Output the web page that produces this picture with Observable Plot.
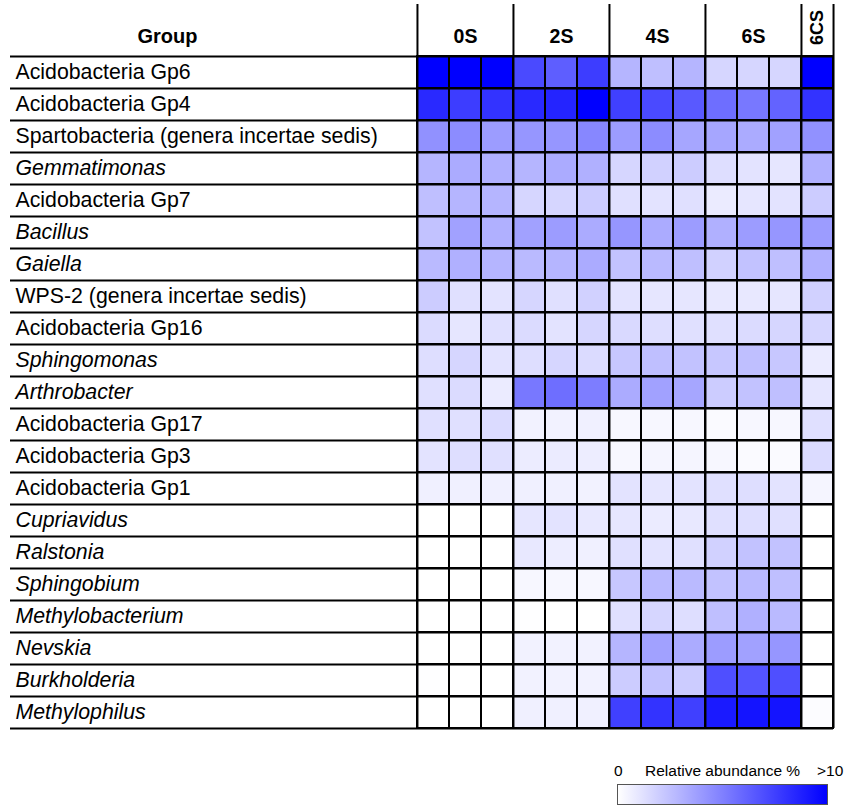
<!DOCTYPE html>
<html>
<head>
<meta charset="utf-8">
<script src="https://cdn.jsdelivr.net/npm/d3@7"></script>
<script src="https://cdn.jsdelivr.net/npm/@observablehq/plot@0.6"></script>
<style>
  html, body { margin: 0; padding: 0; background: #fff; }
  #wrap { position: relative; width: 846px; height: 807px; font-family: "Liberation Sans", Arial, sans-serif; }
  #legend { position: absolute; left: 612px; top: 762px; width: 234px; height: 46px; }
  #legend .lbl { position: absolute; top: 0; font-size: 15.5px; color: #000; line-height: 18px; }
  #legend .bar { position: absolute; left: 5px; top: 22px; width: 211px; height: 21px; border: 1px solid #555; box-sizing: border-box; }
</style>
</head>
<body>
<div id="wrap"></div>
<script>
// ---- data ----
const groups = [
  "Acidobacteria Gp6", "Acidobacteria Gp4", "Spartobacteria (genera incertae sedis)",
  "Gemmatimonas", "Acidobacteria Gp7", "Bacillus", "Gaiella",
  "WPS-2 (genera incertae sedis)", "Acidobacteria Gp16", "Sphingomonas", "Arthrobacter",
  "Acidobacteria Gp17", "Acidobacteria Gp3", "Acidobacteria Gp1", "Cupriavidus",
  "Ralstonia", "Sphingobium", "Methylobacterium", "Nevskia", "Burkholderia", "Methylophilus"
];
const italicGroups = [
  "Gemmatimonas", "Bacillus", "Gaiella", "Sphingomonas", "Arthrobacter", "Cupriavidus",
  "Ralstonia", "Sphingobium", "Methylobacterium", "Nevskia", "Burkholderia", "Methylophilus"
];
const columns = ["0S-1","0S-2","0S-3","2S-1","2S-2","2S-3","4S-1","4S-2","4S-3","6S-1","6S-2","6S-3","6CS"];
const treatments = ["0S", "2S", "4S", "6S"];
const treatmentCenters = ["0S-2", "2S-2", "4S-2", "6S-2"];
const treatmentStarts = ["0S-1", "2S-1", "4S-1", "6S-1", "6CS"];
const singleTreatment = "6CS";
// relative abundance % (values > 10 shown as saturated)
const values = [
  [12, 12, 12,     7.1, 6.3, 7.6,   2.9, 2.5, 2.9,   1.6, 1.6, 1.6,   12],
  [8.4, 7.6, 8.0,  8.4, 8.6, 11,    7.5, 7.1, 6.5,   5.7, 5.3, 6.1,   8.0],
  [4.3, 4.5, 3.9,  4.1, 4.1, 4.7,   3.9, 4.5, 3.5,   3.5, 3.3, 3.7,   4.3],
  [2.9, 3.3, 3.1,  2.9, 3.3, 3.1,   1.6, 1.8, 2.0,   1.3, 1.1, 1.0,   3.1],
  [2.5, 2.9, 2.9,  1.6, 1.6, 2.0,   1.2, 1.1, 1.2,   0.8, 1.0, 1.1,   2.0],
  [2.4, 3.7, 3.1,  3.7, 3.9, 3.3,   4.1, 3.3, 3.9,   3.1, 3.9, 4.1,   3.9],
  [2.7, 3.1, 2.9,  2.7, 2.9, 3.3,   2.4, 2.7, 2.5,   1.8, 2.4, 2.5,   3.1],
  [2.0, 1.2, 1.1,  1.6, 1.2, 1.8,   1.1, 1.0, 1.0,   0.9, 0.9, 1.0,   1.8],
  [1.4, 1.0, 1.2,  1.4, 1.1, 1.6,   1.5, 1.3, 1.2,   1.2, 1.4, 1.6,   1.6],
  [1.3, 1.6, 1.1,  1.3, 1.6, 1.4,   2.2, 2.5, 2.4,   2.2, 2.5, 2.2,   0.8],
  [1.2, 1.4, 0.8,  5.3, 5.7, 5.1,   3.3, 3.7, 3.5,   2.0, 2.4, 2.5,   1.0],
  [1.2, 1.2, 1.4,  0.5, 0.5, 0.6,   0.3, 0.3, 0.3,   0.2, 0.3, 0.3,   1.2],
  [1.1, 1.3, 1.2,  0.75, 0.8, 0.7,  0.3, 0.4, 0.4,   0.3, 0.2, 0.2,   1.4],
  [0.6, 0.6, 0.6,  0.6, 0.6, 0.5,   1.1, 1.0, 1.1,   1.2, 1.3, 1.1,   0.4],
  [0, 0, 0,        1.0, 1.1, 0.9,   1.0, 0.8, 0.9,   1.2, 1.3, 1.2,   0],
  [0, 0, 0,        0.9, 0.7, 0.6,   1.2, 1.1, 1.2,   1.8, 2.4, 2.4,   0],
  [0, 0, 0,        0.3, 0.3, 0.3,   2.2, 2.7, 2.7,   2.4, 2.7, 2.5,   0],
  [0, 0, 0,        0.05, 0, 0,      1.2, 1.6, 1.3,   2.5, 3.1, 2.7,   0],
  [0, 0, 0,        0.5, 0.5, 0.5,   2.9, 3.7, 3.3,   3.9, 3.7, 4.1,   0],
  [0.05, 0, 0,     0.5, 0.5, 0.5,   2.0, 2.4, 2.0,   6.9, 6.7, 6.9,   0],
  [0, 0, 0,        0.6, 0.6, 0.6,   7.5, 8.0, 7.5,   9.0, 9.2, 9.2,   0.1]
];
const legendMin = "0";
const legendMax = ">10";
const legendTitle = "Relative abundance %";

// ---- layout ----
const W = 846, H = 740;
const gridLeft = 416, gridRight = 833, gridTop = 56, gridBottom = 728;
const bwX = (gridRight - gridLeft) / columns.length;
const bwY = (gridBottom - gridTop) / groups.length;
const font = "Liberation Sans, Arial, Helvetica, sans-serif";

const cells = groups.flatMap((g, i) => columns.map((c, j) => ({group: g, column: c, value: values[i][j]})));
const isItalic = new Set(italicGroups);

const chart = Plot.plot({
  width: W, height: H,
  marginTop: 4, marginLeft: 10, marginRight: W - gridRight, marginBottom: H - gridBottom,
  style: {fontFamily: font, background: "white", color: "black"},
  x: {type: "band", domain: columns, range: [gridLeft, gridRight], padding: 0, axis: null},
  y: {type: "band", domain: groups, range: [gridTop, gridBottom], padding: 0, axis: null},
  color: {type: "linear", domain: [0, 10], range: ["#ffffff", "#0000ff"], interpolate: "rgb", clamp: true},
  marks: [
    Plot.cell(cells, {x: "column", y: "group", fill: "value", stroke: "black", strokeWidth: 2}),
    Plot.ruleY(groups, {y: d => d, dy: bwY / 2, stroke: "black", strokeWidth: 2}),
    Plot.ruleY([groups[0]], {y: d => d, dy: -bwY / 2, stroke: "black", strokeWidth: 2}),
    Plot.ruleX(treatmentStarts, {x: d => d, dx: -bwX / 2, stroke: "black", strokeWidth: 2}),
    Plot.ruleX([columns[columns.length - 1]], {x: d => d, dx: bwX / 2, stroke: "black", strokeWidth: 2}),
    Plot.text(groups.filter(g => !isItalic.has(g)), {y: d => d, text: d => d, frameAnchor: "left", textAnchor: "start", lineAnchor: "middle", dx: 5, fontSize: 21.3}),
    Plot.text(groups.filter(g => isItalic.has(g)), {y: d => d, text: d => d, frameAnchor: "left", textAnchor: "start", lineAnchor: "middle", dx: 5, fontSize: 21.3, fontStyle: "italic"}),
    Plot.text(["Group"], {text: d => d, frameAnchor: "top-left", textAnchor: "middle", lineAnchor: "middle", dx: 157, dy: 32, fontSize: 20, fontWeight: "bold"}),
    Plot.text(treatments, {x: (d, i) => treatmentCenters[i], text: d => d, frameAnchor: "top", textAnchor: "middle", lineAnchor: "middle", dy: 32, fontSize: 19.5, fontWeight: "bold"}),
    Plot.text([singleTreatment], {x: d => d, text: d => d, frameAnchor: "top", textAnchor: "middle", lineAnchor: "middle", dy: 23, rotate: -90, fontSize: 18, fontWeight: "bold"})
  ]
});

const wrap = document.getElementById("wrap");
wrap.appendChild(chart);

const legend = document.createElement("div");
legend.id = "legend";
legend.innerHTML =
  `<span class="lbl" style="left:2px">${legendMin}</span>` +
  `<span class="lbl" style="left:33px">${legendTitle}</span>` +
  `<span class="lbl" style="left:205px">${legendMax}</span>` +
  `<div class="bar"></div>`;
wrap.appendChild(legend);
const c = Plot.scale({color: {type: "linear", domain: [0, 10], range: ["#ffffff", "#0000ff"], interpolate: "rgb"}});
legend.querySelector(".bar").style.background =
  `linear-gradient(to right, ${d3.range(0, 11).map(v => c.apply(v)).join(", ")})`;
</script>
</body>
</html>
